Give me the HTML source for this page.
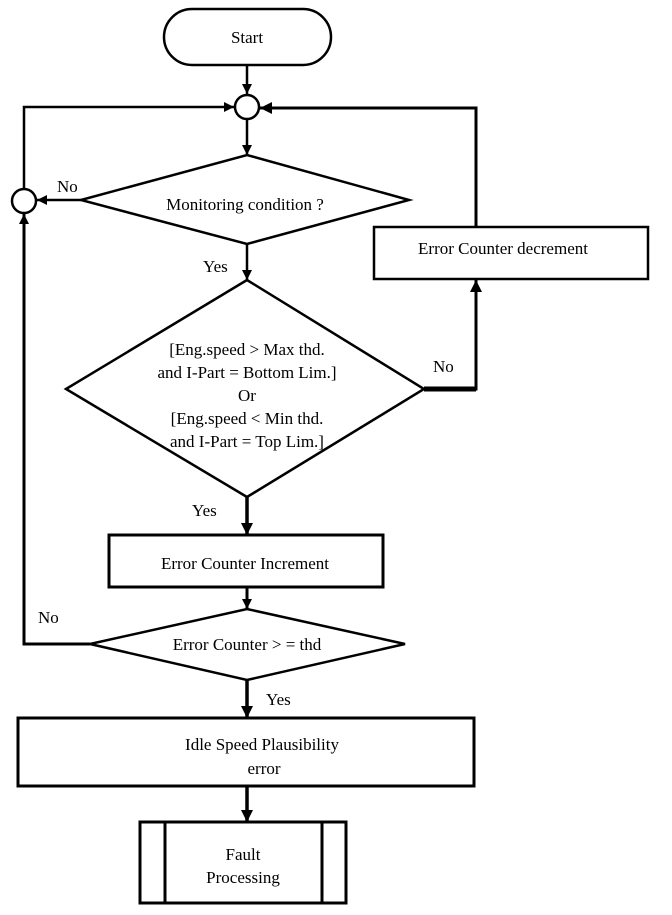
<!DOCTYPE html>
<html><head><meta charset="utf-8"><style>
html,body{margin:0;padding:0;background:#fff}
svg text{font-family:"Liberation Serif",serif;font-size:17px;fill:#000}
</style></head><body>
<svg width="672" height="910" viewBox="0 0 672 910" xmlns="http://www.w3.org/2000/svg">
<defs>
<marker id="a" viewBox="0 0 10 10" refX="10" refY="5" markerWidth="10" markerHeight="10" markerUnits="userSpaceOnUse" orient="auto"><path d="M0,0 L10,5 L0,10 z" fill="#000"/></marker>
<marker id="b" viewBox="0 0 10 10" refX="10" refY="5" markerWidth="12" markerHeight="12" markerUnits="userSpaceOnUse" orient="auto"><path d="M0,0 L10,5 L0,10 z" fill="#000"/></marker>
</defs>
<g fill="none" stroke="#000" stroke-width="2.5">
<rect x="164" y="9" width="167" height="56" rx="28" ry="28"/>
<circle cx="247" cy="107" r="12"/>
<circle cx="24" cy="201" r="12"/>
<polygon points="81,200 247,155 409,200 247,244"/>
<rect x="374" y="227" width="274" height="52"/>
<polygon points="66,389 247,280 424,389 247,497"/>
<rect x="109" y="535" width="274" height="52" stroke-width="3"/>
<polygon points="90,644 247,609 405,644 247,680"/>
<rect x="18" y="718" width="456" height="68" stroke-width="3"/>
<rect x="140" y="822" width="206" height="81" stroke-width="3"/>
<line x1="165" y1="822" x2="165" y2="903" stroke-width="3"/>
<line x1="322" y1="822" x2="322" y2="903" stroke-width="3"/>
<line x1="247" y1="65" x2="247" y2="94" marker-end="url(#a)"/>
<line x1="247" y1="119" x2="247" y2="155" marker-end="url(#a)"/>
<polyline points="24,189 24,107 234,107" marker-end="url(#a)"/>
<polyline points="476,227 476,108 260,108" stroke-width="3" marker-end="url(#b)"/>
<line x1="81" y1="200" x2="37" y2="200" marker-end="url(#a)"/>
<line x1="247" y1="244" x2="247" y2="280" marker-end="url(#a)"/>
<polyline points="424,389 476,389 476,280" stroke-width="3" marker-end="url(#b)"/>
<line x1="424" y1="389" x2="476" y2="389" stroke-width="5"/>
<line x1="247" y1="497" x2="247" y2="535" stroke-width="3.5" marker-end="url(#b)"/>
<line x1="247" y1="587" x2="247" y2="609" stroke-width="3" marker-end="url(#a)"/>
<polyline points="90,644 24,644 24,214" stroke-width="3" marker-end="url(#a)"/>
<line x1="247" y1="680" x2="247" y2="718" stroke-width="3.5" marker-end="url(#b)"/>
<line x1="247" y1="786" x2="247" y2="822" stroke-width="3.5" marker-end="url(#b)"/>
</g>
<text x="247" y="43" text-anchor="middle">Start</text>
<text x="245" y="210" text-anchor="middle">Monitoring condition ?</text>
<text x="57" y="192">No</text>
<text x="203" y="272">Yes</text>
<text x="503" y="254" text-anchor="middle">Error Counter decrement</text>
<text x="247" y="355" text-anchor="middle">[Eng.speed &gt; Max thd.</text>
<text x="247" y="378" text-anchor="middle">and I-Part = Bottom Lim.]</text>
<text x="247" y="401" text-anchor="middle">Or</text>
<text x="247" y="424" text-anchor="middle">[Eng.speed &lt; Min thd.</text>
<text x="247" y="447" text-anchor="middle">and I-Part = Top Lim.]</text>
<text x="433" y="372">No</text>
<text x="192" y="516">Yes</text>
<text x="245" y="569" text-anchor="middle">Error Counter Increment</text>
<text x="38" y="623">No</text>
<text x="247" y="650" text-anchor="middle">Error Counter &gt; = thd</text>
<text x="266" y="705">Yes</text>
<text x="262" y="750" text-anchor="middle">Idle Speed Plausibility</text>
<text x="264" y="774" text-anchor="middle">error</text>
<text x="243" y="860" text-anchor="middle">Fault</text>
<text x="243" y="883" text-anchor="middle">Processing</text>
</svg>
</body></html>
